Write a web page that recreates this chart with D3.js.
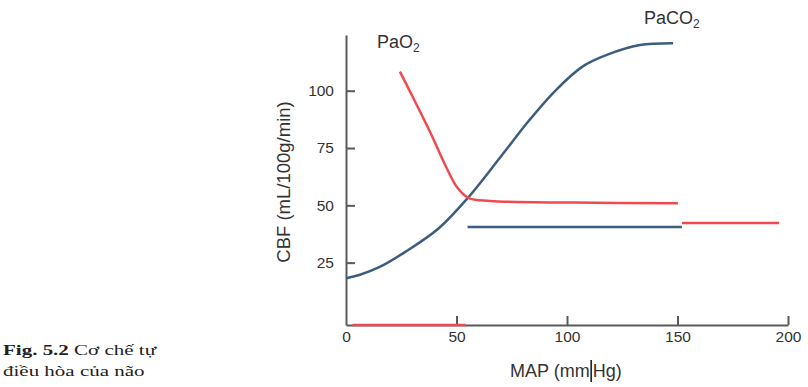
<!DOCTYPE html>
<html>
<head>
<meta charset="utf-8">
<script src="https://cdn.jsdelivr.net/npm/d3@7"></script>
<style>
  body { margin: 0; background: #fff; }
  text { font-family: "Liberation Sans", Arial, sans-serif; fill: #333; }
  .caption text { font-family: "Liberation Serif", "Times New Roman", serif; fill: #222; }
</style>
</head>
<body>
<div id="chart"></div>
<script>
// values (MAP in mmHg, CBF in mL/100g/min)
let paco2Map = [0, 6, 15, 27, 42, 55, 70, 83, 95, 107, 118, 133, 148];
let paco2Cbf = [18.2, 19.6, 23, 29.8, 40, 53.1, 71.2, 87.2, 100.3, 110.5, 115.6, 119.9, 120.7];

let pao2Map = [24.4, 30.5, 38, 45.6, 50.1, 55.3, 65.2, 102.7, 150.2];
let pao2Cbf = [108.3, 96.7, 82.1, 66.2, 58.1, 53.3, 51.9, 51.2, 50.9];

// straight segments: [x1, x2, y]
let blueFlat = [55, 152, 40.6];
let redFlat = [152, 196, 42.3];
let redBase = [3, 54, -2.2];

let xTicks = [0, 50, 100, 150, 200];
let yTicks = [25, 50, 75, 100];

let blue = "#3b5d7f", red = "#f04a50";

let width = 808, height = 387;

let svg = d3.select("#chart").append("svg")
    .attr("width", width)
    .attr("height", height);

let x = d3.scaleLinear().domain([0, 200]).range([346, 788]);
let y = d3.scaleLinear().domain([-2.2, 124.3]).range([325, 35]);

// axes
let xAxis = svg.append("g")
    .attr("transform", "translate(0,325)")
    .call(d3.axisBottom(x).tickValues(xTicks).tickSizeInner(-9).tickSizeOuter(0).tickPadding(6));
xAxis.selectAll(".tick").filter(d => d === 0).select("line").remove();

let yAxis = svg.append("g")
    .attr("transform", "translate(346,0)")
    .call(d3.axisLeft(y).tickValues(yTicks).tickSizeInner(-9).tickSizeOuter(0).tickPadding(12));

svg.selectAll(".domain, .tick line")
    .attr("stroke", "#5a5a5a")
    .attr("stroke-width", 2);
svg.selectAll(".tick text")
    .attr("fill", "#333")
    .style("font-size", "15.5px")
    .style("font-family", "'Liberation Sans', Arial, sans-serif");

// lines
let line = d3.line()
    .x(d => x(d[0]))
    .y(d => y(d[1]))
    .curve(d3.curveCatmullRom);

svg.append("path")
    .datum(d3.zip(paco2Map, paco2Cbf))
    .attr("fill", "none")
    .attr("stroke", blue)
    .attr("stroke-width", 2.5)
    .attr("d", line);

svg.append("path")
    .datum(d3.zip(pao2Map, pao2Cbf))
    .attr("fill", "none")
    .attr("stroke", red)
    .attr("stroke-width", 2.5)
    .attr("d", line);

let segs = [[blueFlat, blue], [redFlat, red], [redBase, red]];
svg.selectAll(".seg")
    .data(segs)
    .enter()
    .append("line")
    .attr("class", "seg")
    .attr("x1", d => x(d[0][0]))
    .attr("x2", d => x(d[0][1]))
    .attr("y1", d => y(d[0][2]))
    .attr("y2", d => y(d[0][2]))
    .attr("stroke", d => d[1])
    .attr("stroke-width", 2.5);

// labels
let lab1 = svg.append("text")
    .attr("x", 377).attr("y", 48)
    .style("font-size", "18px");
lab1.append("tspan").text("PaO");
lab1.append("tspan").attr("dy", 4).style("font-size", "12px").text("2");

let lab2 = svg.append("text")
    .attr("x", 644).attr("y", 24)
    .style("font-size", "18px");
lab2.append("tspan").text("PaCO");
lab2.append("tspan").attr("dy", 4).style("font-size", "12px").text("2");

svg.append("text")
    .attr("transform", "translate(290,182) rotate(-90)")
    .attr("text-anchor", "middle")
    .style("font-size", "18.5px")
    .text("CBF (mL/100g/min)");

let xt = svg.append("text")
    .attr("x", 510).attr("y", 377)
    .style("font-size", "18px");
let part1 = xt.append("tspan").text("MAP (mm");
xt.append("tspan").attr("dx", 3).text("Hg)");

// little cursor mark in the axis title, sits in the gap
let cx = 510 + part1.node().getComputedTextLength() + 1.5;
svg.append("line")
    .attr("x1", cx).attr("x2", cx)
    .attr("y1", 360).attr("y2", 382)
    .attr("stroke", "#111")
    .attr("stroke-width", 1.5);

// caption
let cap = svg.append("g").attr("class", "caption")
    .attr("transform", "translate(3,0) scale(1.4,1)");
let c1 = cap.append("text").attr("x", 0).attr("y", 355).style("font-size", "15px");
c1.append("tspan").style("font-weight", "bold").text("Fig. 5.2");
c1.append("tspan").text(" Cơ chế tự");
cap.append("text").attr("x", 0).attr("y", 376).style("font-size", "15px").text("điều hòa của não");
</script>
</body>
</html>
